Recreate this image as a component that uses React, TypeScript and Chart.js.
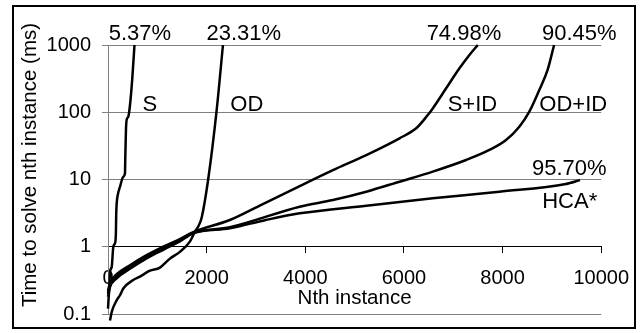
import React, { useEffect, useRef } from "react";
import { Chart, registerables } from "chart.js";

Chart.register(...registerables);

// ---- data ----
const xTicks = [0, 2000, 4000, 6000, 8000, 10000];
const xTickLabels = ["0", "2000", "4000", "6000", "8000", "10000"];
const yTicks = [0.1, 1, 10, 100, 1000];
const yTickLabels = ["0.1", "1", "10", "100", "1000"];

const sX = [0, 10, 27, 40, 75, 108, 142, 160, 166, 176, 200, 243, 310, 344, 350, 364, 378, 412, 445, 490, 537];
const sY = [0.12, 0.16, 0.25, 0.42, 0.5, 1.0, 1.13, 1.58, 3.0, 4.4, 6.0, 7.8, 11, 12.4, 20, 54, 77, 86, 126, 300, 1000];

const odX = [40, 80, 176, 243, 310, 512, 648, 850, 1053, 1250, 1457, 1660, 1761, 1830, 1896, 2031, 2200, 2331];
const odY = [0.08, 0.11, 0.16, 0.19, 0.24, 0.32, 0.36, 0.44, 0.49, 0.66, 0.84, 1.19, 1.67, 2.0, 2.65, 10, 102, 1000];

const sidX = [0, 40, 176, 445, 783, 1120, 1457, 1727, 2470, 3077, 3887, 4561, 5237, 5911, 6249, 6484, 6585, 6856, 7126, 7328, 7498];
const sidY = [0.22, 0.29, 0.39, 0.53, 0.75, 1.0, 1.3, 1.65, 2.5, 4.1, 8.0, 13.8, 23.1, 41, 57.7, 91, 114, 227, 450, 710, 1000];

const odidX = [0, 40, 176, 445, 783, 1120, 1457, 1727, 2470, 3887, 4561, 5237, 5911, 6585, 7261, 7733, 8071, 8340, 8543, 8745, 8913, 9045];
const odidY = [0.2, 0.27, 0.36, 0.5, 0.71, 0.95, 1.26, 1.6, 1.95, 3.94, 4.96, 6.59, 9.27, 13.1, 19.5, 27.5, 38.7, 61, 102, 214, 425, 1000];

const hcaX = [0, 40, 176, 445, 783, 1120, 1457, 1727, 2470, 3200, 3887, 5237, 6585, 7935, 9285, 9570];
const hcaY = [0.18, 0.25, 0.34, 0.47, 0.67, 0.9, 1.2, 1.58, 1.88, 2.5, 3.14, 4.08, 5.25, 6.59, 8.57, 9.8];

const seriesNames = ["S", "OD", "S+ID", "OD+ID", "HCA*"];

const labelTexts = ["5.37%", "23.31%", "74.98%", "90.45%", "S", "OD", "S+ID", "OD+ID", "95.70%", "HCA*"];
const labelX = [648, 2753, 7217, 9555, 850, 2814, 7389, 9433, 9352, 9362];
const labelY = [1187, 1187, 1187, 1187, 106, 106, 106, 106, 11.7, 3.77];

const yTitle = "Time to solve nth instance (ms)";
const xTitle = "Nth instance";

const FONT = "'Liberation Sans', Arial, Helvetica, sans-serif";

function pts(xs: number[], ys: number[]) {
  return xs.map((x, i) => ({ x, y: ys[i] }));
}

const labelPlugin = {
  id: "curveLabels",
  afterDatasetsDraw(chart: any) {
    const { ctx, scales } = chart;
    ctx.save();
    ctx.fillStyle = "#000";
    ctx.font = `22px ${FONT}`;
    ctx.textAlign = "center";
    ctx.textBaseline = "alphabetic";
    labelTexts.forEach((t, i) => {
      const px = scales.x.getPixelForValue(labelX[i]);
      const py = scales.y.getPixelForValue(labelY[i]);
      ctx.fillText(t, px, py);
    });
    // vertical axis title, centred on the whole chart height (Excel style)
    ctx.font = `20.5px ${FONT}`;
    ctx.textBaseline = "middle";
    ctx.translate(scales.y.left + 12, chart.height / 2 - 1.5);
    ctx.rotate(-Math.PI / 2);
    ctx.fillText(yTitle, 0, 0);
    ctx.restore();
  },
};

export default function App() {
  const ref = useRef<HTMLCanvasElement | null>(null);

  useEffect(() => {
    if (!ref.current) return;
    const series = [
      pts(sX, sY),
      pts(odX, odY),
      pts(sidX, sidY),
      pts(odidX, odidY),
      pts(hcaX, hcaY),
    ];
    const chart = new Chart(ref.current, {
      type: "line",
      data: {
        datasets: series.map((d, i) => ({
          label: seriesNames[i],
          data: d,
          borderColor: "#000",
          borderWidth: 2.5,
          pointRadius: 0,
          fill: false,
          cubicInterpolationMode: "monotone" as const,
          clip: 8,
        })),
      },
      options: {
        responsive: false,
        animation: false,
        events: [],
        layout: { padding: { left: 18, right: 41, top: 45, bottom: 19 } },
        plugins: { legend: { display: false }, tooltip: { enabled: false } },
        font: { family: FONT, size: 20 },
        scales: {
          x: {
            type: "linear",
            min: 0,
            max: 10000,
            position: { y: 1 } as any,
            afterBuildTicks: (s: any) => {
              s.ticks = xTicks.map((v) => ({ value: v }));
            },
            afterFit: (s: any) => {
              s.height = 64;
            },
            grid: { drawOnChartArea: false, drawTicks: true, tickLength: 6, color: "#000", lineWidth: 1 },
            border: { display: true, color: "#000", width: 1 },
            ticks: {
              padding: 14,
              maxRotation: 0,
              autoSkip: false,
              color: "#000",
              font: { family: FONT, size: 20 },
              callback: (_v: any, i: number) => xTickLabels[i],
            },
            title: {
              display: true,
              text: xTitle,
              color: "#000",
              font: { family: FONT, size: 20.5 },
              padding: 0,
            },
          },
          y: {
            type: "logarithmic",
            min: 0.1,
            max: 1000,
            position: "left",
            afterBuildTicks: (s: any) => {
              s.ticks = yTicks.map((v) => ({ value: v }));
            },
            afterFit: (s: any) => {
              s.width = 90;
              s.paddingTop = 0;
              s.paddingBottom = 0;
            },
            grid: { color: "#808080", lineWidth: 1, tickLength: 6, drawTicks: true },
            border: { display: true, color: "#808080", width: 1 },
            ticks: {
              padding: 11,
              autoSkip: false,
              color: "#000",
              font: { family: FONT, size: 20 },
              callback: (_v: any, i: number) => yTickLabels[i],
            },
            title: { display: false },
          },
        },
      },
      plugins: [labelPlugin],
    } as any);
    return () => chart.destroy();
  }, []);

  return (
    <div style={{ position: "fixed", left: 0, top: 0, width: 643, height: 333, background: "#fff" }}>
      <canvas ref={ref} width={643} height={333} style={{ position: "absolute", left: 0, top: 0 }} />
      <div
        style={{
          position: "absolute",
          left: 12,
          top: 5,
          width: 624,
          height: 324,
          boxSizing: "border-box",
          border: "2px solid #000",
          pointerEvents: "none",
        }}
      />
    </div>
  );
}
